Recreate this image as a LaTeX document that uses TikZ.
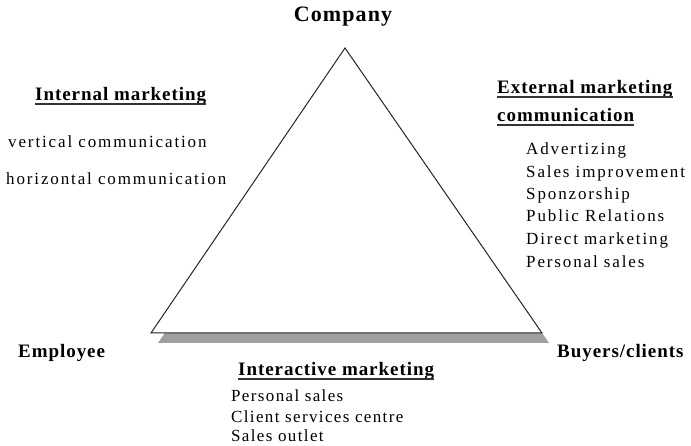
\documentclass[tikz,border=0pt]{standalone}
\usepackage{fontspec}
\setmainfont{Liberation Serif}
\newfontfamily\bodyf[LetterSpace=11]{Liberation Serif}
\newfontfamily\bodyg[LetterSpace=8]{Liberation Serif}
\newfontfamily\boldf[LetterSpace=5,BoldFont={Liberation Serif Bold}]{Liberation Serif}
\begin{document}
\begin{tikzpicture}[x=1pt,y=-1pt,
  txt/.style={inner sep=0pt, anchor=base west, font=\bodyf\fontsize{17}{19}\selectfont},
  txtb/.style={inner sep=0pt, anchor=base west, font=\bodyg\fontsize{17}{19}\selectfont},
  head/.style={inner sep=0pt, anchor=base west, font=\boldf\bfseries\fontsize{19}{21}\selectfont},
  corner/.style={inner sep=0pt, anchor=base west, font=\boldf\bfseries\fontsize{19}{21}\selectfont},
  ul/.style={line width=1.3pt, black!80}]
\useasboundingbox (0,0) rectangle (691,446);
% triangle with shadow
\coordinate (A) at (345,48);
\coordinate (B) at (151,333);
\coordinate (C) at (542,333);
\fill[gray!75] ([xshift=7pt,yshift=-10pt]A) -- ([xshift=7pt,yshift=-10pt]B) -- ([xshift=7pt,yshift=-10pt]C) -- cycle;
\filldraw[fill=white, draw=black!85, line width=1pt] (A) -- (B) -- (C) -- cycle;
% corner labels
\node[inner sep=0pt, anchor=base, font=\boldf\bfseries\fontsize{22}{24}\selectfont] (company) at (343,22) {Company};
\node[corner] (employee) at (18,358) {Employee};
\node[corner] (buyers) at (557,358) {Buyers/clients};
% internal marketing
\node[head] (im) at (35,101) {Internal marketing};
\draw[ul] ([yshift=-3pt]im.base west) -- ([yshift=-3pt]im.base east);
\node[txt] (vc) at (8,148) {vertical communication};
\node[txt] (hc) at (6,185) {horizontal communication};
% external marketing
\node[head] (em1) at (497,94) {External marketing};
\draw[ul] ([yshift=-3pt]em1.base west) -- ([yshift=-3pt]em1.base east);
\node[head] (em2) at (497,122) {communication};
\draw[ul] ([yshift=-3pt]em2.base west) -- ([yshift=-3pt]em2.base east);
\node[txt] (e1) at (526,155) {Advertizing};
\node[txt] (e2) at (526,178) {Sales improvement};
\node[txt] (e3) at (526,200) {Sponzorship};
\node[txt] (e4) at (526,222) {Public Relations};
\node[txt] (e5) at (526,245) {Direct marketing};
\node[txt] (e6) at (526,268) {Personal sales};
% interactive marketing
\node[head] (ia) at (238,376) {Interactive marketing};
\draw[ul] ([yshift=-3pt]ia.base west) -- ([yshift=-3pt]ia.base east);
\node[txtb] (i1) at (231,402) {Personal sales};
\node[txtb] (i2) at (231,422) {Client services centre};
\node[txtb] (i3) at (231,441) {Sales outlet};
\end{tikzpicture}
\end{document}
